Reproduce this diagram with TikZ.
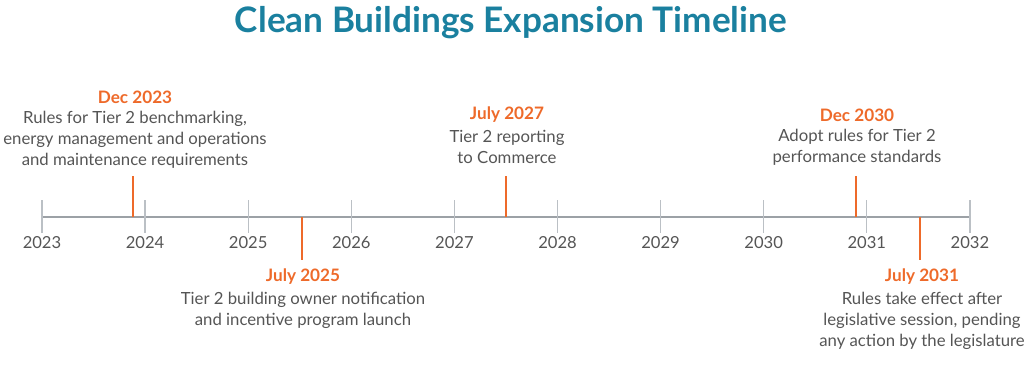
\documentclass[tikz,border=0pt]{standalone}
\usepackage{fontspec}
\setmainfont{Lato}
\usetikzlibrary{positioning}
\definecolor{titleteal}{HTML}{1A809F}
\definecolor{eventorange}{HTML}{EE6A2A}
\definecolor{axisgray}{HTML}{9CA1A6}
\definecolor{tickgray}{HTML}{BBC0C5}
\definecolor{textgray}{HTML}{555555}
\tikzset{
    title/.style={font=\fontsize{25}{30}\selectfont\bfseries, text=titleteal},
    yearlabel/.style={font=\fontsize{11.8}{14}\selectfont, text=textgray},
    datelabel/.style={font=\fontsize{12.2}{14}\selectfont\bfseries, text=eventorange, inner sep=0pt},
    eventtext/.style={font=\fontsize{11.9}{15}\selectfont, text=textgray, align=center, inner sep=0pt},
    marker/.style={eventorange, line width=1.6pt},
}

\begin{document}
\begin{tikzpicture}[x=0.025cm, y=-0.025cm]
    \useasboundingbox (0, 0) rectangle (1024, 384);
    \node[title] (title) at (511, 23) {Clean Buildings Expansion Timeline};
    % axis and year ticks
    \coordinate (axisstart) at (42, 217);
    \coordinate (axisend) at (970, 217);
    \draw[axisgray, line width=1.2pt] (axisstart) -- (axisend);
    \foreach \yr [count=\i from 0] in {2023,...,2032} {
        \coordinate (t\yr) at ({42 + \i*103.1}, 217);
        \draw[tickgray, line width=0.9pt] ([yshift=0.42cm]t\yr) -- ([yshift=-0.4cm]t\yr);
        \node[yearlabel] (y\yr) at ({42 + \i*103.1}, 243) {\yr};
    }
    % events above the axis
    \coordinate (m1) at (133, 217);
    \draw[marker] (m1) -- ++(0, -41);
    \node[datelabel] (d1) at (135, 97) {Dec 2023};
    \node[eventtext, below=5pt of d1] (e1) {Rules for Tier 2 benchmarking,\\ energy management and operations\\ and maintenance requirements};
    \coordinate (m3) at (506, 217);
    \draw[marker] (m3) -- ++(0, -41);
    \node[datelabel] (d3) at (507, 115) {July 2027};
    \node[eventtext, below=5pt of d3] (e3) {Tier 2 reporting\\ to Commerce};
    \coordinate (m4) at (856, 217);
    \draw[marker] (m4) -- ++(0, -41);
    \node[datelabel] (d4) at (857, 115) {Dec 2030};
    \node[eventtext, below=5pt of d4] (e4) {Adopt rules for Tier 2\\ performance standards};
    % events below the axis
    \coordinate (m2) at (302, 217);
    \draw[marker] (m2) -- ++(0, 43);
    \node[datelabel] (d2) at (303, 277) {July 2025};
    \node[eventtext, below=5pt of d2] (e2) {Tier 2 building owner notification\\ and incentive program launch};
    \coordinate (m5) at (920, 217);
    \draw[marker] (m5) -- ++(0, 43);
    \node[datelabel] (d5) at (922, 277) {July 2031};
    \node[eventtext, below=5pt of d5] (e5) {Rules take effect after\\ legislative session, pending\\ any action by the legislature};
\end{tikzpicture}
\end{document}
